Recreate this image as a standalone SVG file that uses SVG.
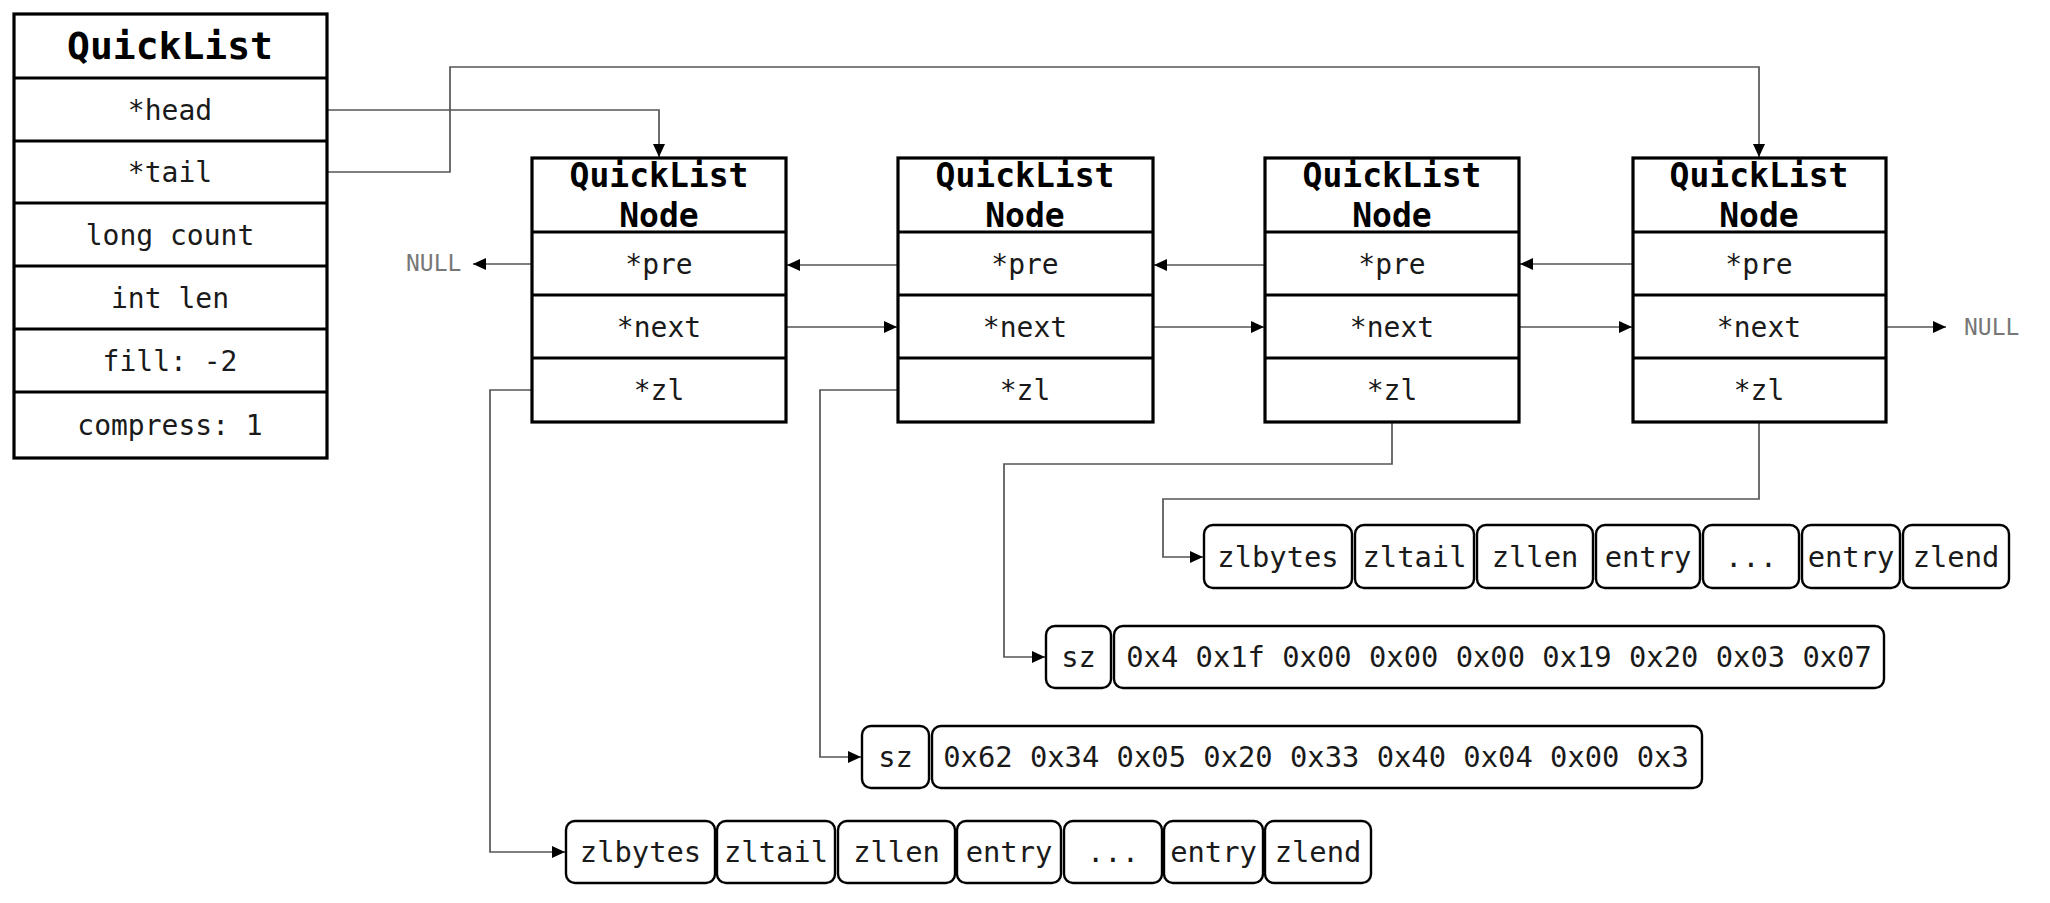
<svg xmlns="http://www.w3.org/2000/svg" width="2050" height="903" viewBox="0 0 2050 903">
<style>
.bg{fill:#fff}
.box{fill:#fff;stroke:#000;stroke-width:3.2}
.div{stroke:#000;stroke-width:3.2}
.zb{fill:#fff;stroke:#000;stroke-width:2.4}
.t{font-family:"DejaVu Sans Mono","Liberation Mono",monospace;font-size:28px;fill:#1a1a1a;text-anchor:middle}
.tz{font-family:"DejaVu Sans Mono","Liberation Mono",monospace;font-size:28.8px;fill:#1a1a1a;text-anchor:middle}
.tb{font-family:"DejaVu Sans Mono","Liberation Mono",monospace;font-weight:bold;fill:#000;text-anchor:middle}
.null{font-family:"DejaVu Sans Mono","Liberation Mono",monospace;font-size:23px;fill:#777}
.c{fill:none;stroke:#555;stroke-width:1.7;marker-end:url(#ah)}
</style>
<defs>
<marker id="ah" markerUnits="userSpaceOnUse" markerWidth="13" markerHeight="12" refX="13" refY="6" orient="auto">
<path d="M0,0 L13,6 L0,12 z" fill="#000"/>
</marker>
</defs>
<rect class="bg" x="0" y="0" width="2050" height="903"/>

<g id="connectors">
<path class="c" d="M327,110 H659 V157"/>
<path class="c" d="M327,172 H450 V67 H1759 V157"/>
<path class="c" d="M898,265 H787"/>
<path class="c" d="M1265,265 H1154"/>
<path class="c" d="M1633,264 H1520"/>
<path class="c" d="M532,264 H473"/>
<path class="c" d="M786,327 H897"/>
<path class="c" d="M1153,327 H1264"/>
<path class="c" d="M1519,327 H1632"/>
<path class="c" d="M1886,327 H1946"/>
<path class="c" d="M532,390 H490 V852 H565"/>
<path class="c" d="M898,390 H820 V757 H861"/>
<path class="c" d="M1392,422 V464 H1004 V657 H1045"/>
<path class="c" d="M1759,422 V499 H1163 V557 H1203"/>
</g>

<g id="quicklist">
<rect class="box" x="14" y="14" width="313" height="444"/>
<line class="div" x1="14" y1="78" x2="327" y2="78"/>
<line class="div" x1="14" y1="141" x2="327" y2="141"/>
<line class="div" x1="14" y1="203" x2="327" y2="203"/>
<line class="div" x1="14" y1="266" x2="327" y2="266"/>
<line class="div" x1="14" y1="329" x2="327" y2="329"/>
<line class="div" x1="14" y1="392" x2="327" y2="392"/>
<text class="tb" x="170" y="59" font-size="38">QuickList</text>
<text class="t" x="170" y="120">*head</text>
<text class="t" x="170" y="182">*tail</text>
<text class="t" x="170" y="245">long count</text>
<text class="t" x="170" y="308">int len</text>
<text class="t" x="170" y="371">fill: -2</text>
<text class="t" x="170" y="435">compress: 1</text>
</g>

<g id="node1">
<rect class="box" x="532" y="158" width="254" height="264"/>
<line class="div" x1="532" y1="232" x2="786" y2="232"/>
<line class="div" x1="532" y1="295" x2="786" y2="295"/>
<line class="div" x1="532" y1="358" x2="786" y2="358"/>
<text class="tb" x="659" y="187" font-size="33">QuickList</text>
<text class="tb" x="659" y="227" font-size="33">Node</text>
<text class="t" x="659" y="274">*pre</text>
<text class="t" x="659" y="337">*next</text>
<text class="t" x="659" y="400">*zl</text>
</g>

<g id="node2">
<rect class="box" x="898" y="158" width="255" height="264"/>
<line class="div" x1="898" y1="232" x2="1153" y2="232"/>
<line class="div" x1="898" y1="295" x2="1153" y2="295"/>
<line class="div" x1="898" y1="358" x2="1153" y2="358"/>
<text class="tb" x="1025" y="187" font-size="33">QuickList</text>
<text class="tb" x="1025" y="227" font-size="33">Node</text>
<text class="t" x="1025" y="274">*pre</text>
<text class="t" x="1025" y="337">*next</text>
<text class="t" x="1025" y="400">*zl</text>
</g>

<g id="node3">
<rect class="box" x="1265" y="158" width="254" height="264"/>
<line class="div" x1="1265" y1="232" x2="1519" y2="232"/>
<line class="div" x1="1265" y1="295" x2="1519" y2="295"/>
<line class="div" x1="1265" y1="358" x2="1519" y2="358"/>
<text class="tb" x="1392" y="187" font-size="33">QuickList</text>
<text class="tb" x="1392" y="227" font-size="33">Node</text>
<text class="t" x="1392" y="274">*pre</text>
<text class="t" x="1392" y="337">*next</text>
<text class="t" x="1392" y="400">*zl</text>
</g>

<g id="node4">
<rect class="box" x="1633" y="158" width="253" height="264"/>
<line class="div" x1="1633" y1="232" x2="1886" y2="232"/>
<line class="div" x1="1633" y1="295" x2="1886" y2="295"/>
<line class="div" x1="1633" y1="358" x2="1886" y2="358"/>
<text class="tb" x="1759" y="187" font-size="33">QuickList</text>
<text class="tb" x="1759" y="227" font-size="33">Node</text>
<text class="t" x="1759" y="274">*pre</text>
<text class="t" x="1759" y="337">*next</text>
<text class="t" x="1759" y="400">*zl</text>
</g>

<g id="null-left"><text class="null" x="406" y="271">NULL</text></g>
<g id="null-right"><text class="null" x="1964" y="335">NULL</text></g>

<g id="ziplist4">
<rect class="zb" x="1204" y="525" width="148" height="63" rx="9"/>
<rect class="zb" x="1355" y="525" width="119" height="63" rx="9"/>
<rect class="zb" x="1477" y="525" width="116" height="63" rx="9"/>
<rect class="zb" x="1596" y="525" width="104" height="63" rx="9"/>
<rect class="zb" x="1703" y="525" width="96" height="63" rx="9"/>
<rect class="zb" x="1802" y="525" width="98" height="63" rx="9"/>
<rect class="zb" x="1903" y="525" width="106" height="63" rx="9"/>
<text class="tz" x="1278" y="567">zlbytes</text>
<text class="tz" x="1414.5" y="567">zltail</text>
<text class="tz" x="1535" y="567">zllen</text>
<text class="tz" x="1648" y="567">entry</text>
<text class="tz" x="1751" y="567">...</text>
<text class="tz" x="1851" y="567">entry</text>
<text class="tz" x="1956" y="567">zlend</text>
</g>

<g id="compressed3">
<rect class="zb" x="1046" y="626" width="65" height="62" rx="9"/>
<rect class="zb" x="1114" y="626" width="770" height="62" rx="9"/>
<text class="tz" x="1078.5" y="667">sz</text>
<text class="tz" x="1499" y="667">0x4 0x1f 0x00 0x00 0x00 0x19 0x20 0x03 0x07</text>
</g>

<g id="compressed2">
<rect class="zb" x="862" y="726" width="67" height="62" rx="9"/>
<rect class="zb" x="932" y="726" width="770" height="62" rx="9"/>
<text class="tz" x="895.5" y="767">sz</text>
<text class="tz" x="1316" y="767">0x62 0x34 0x05 0x20 0x33 0x40 0x04 0x00 0x3</text>
</g>

<g id="ziplist1">
<rect class="zb" x="566" y="821" width="149" height="62" rx="9"/>
<rect class="zb" x="717" y="821" width="118" height="62" rx="9"/>
<rect class="zb" x="838" y="821" width="117" height="62" rx="9"/>
<rect class="zb" x="957" y="821" width="104" height="62" rx="9"/>
<rect class="zb" x="1064" y="821" width="98" height="62" rx="9"/>
<rect class="zb" x="1164" y="821" width="99" height="62" rx="9"/>
<rect class="zb" x="1265" y="821" width="106" height="62" rx="9"/>
<text class="tz" x="640.5" y="862">zlbytes</text>
<text class="tz" x="776" y="862">zltail</text>
<text class="tz" x="896.5" y="862">zllen</text>
<text class="tz" x="1009" y="862">entry</text>
<text class="tz" x="1113" y="862">...</text>
<text class="tz" x="1213.5" y="862">entry</text>
<text class="tz" x="1318" y="862">zlend</text>
</g>
</svg>
